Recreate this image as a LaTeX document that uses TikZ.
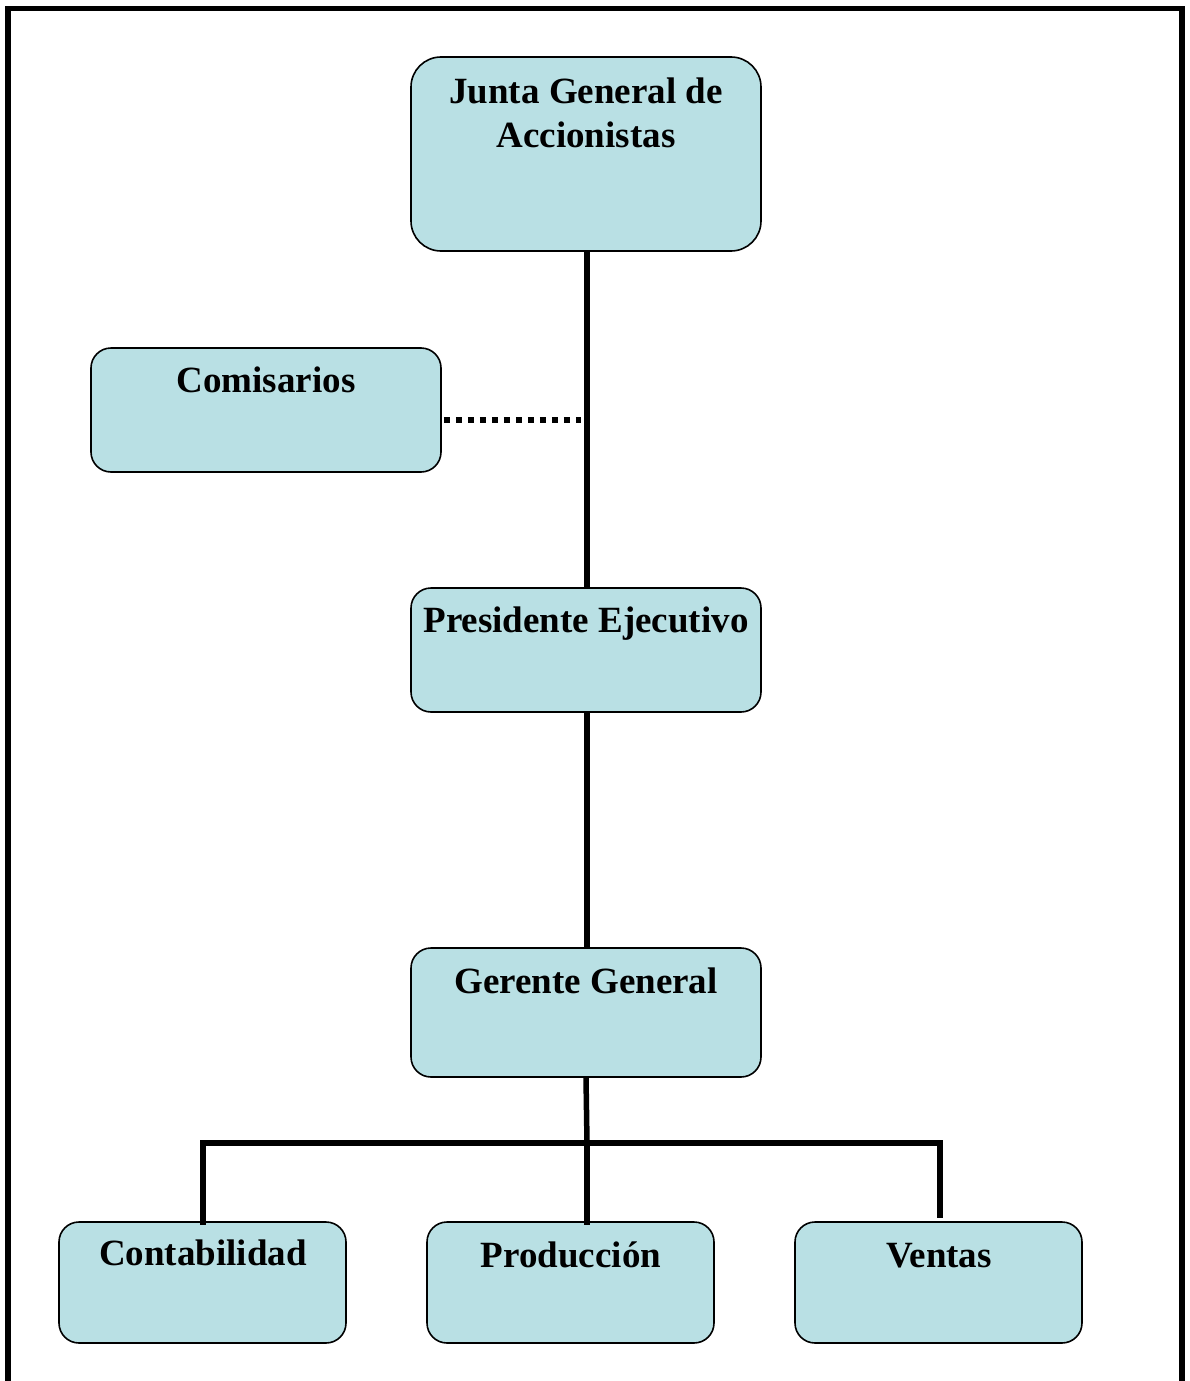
\documentclass[tikz,border=0pt]{standalone}
\usepackage{fontspec}
\setmainfont{Liberation Serif}
\begin{document}
\begin{tikzpicture}[x=1pt,y=-1pt,
  orgbox/.style={draw=black, line width=1.6pt, fill=boxfill, rounded corners=20pt,
    inner sep=0pt, minimum width=#1},
  orgbox/.default=350,
  lbl/.style={anchor=base, font=\bfseries\fontsize{37}{44}\selectfont, inner sep=0pt},
  link/.style={line width=5.5pt},
  dotlink/.style={line width=5.5pt, dash pattern=on 6pt off 6pt}]
\definecolor{boxfill}{RGB}{185,224,228}
\useasboundingbox (0,0) rectangle (1190,1381);
\begin{scope}
\clip (0,0) rectangle (1190,1381);
\draw[line width=5.5pt] (8,8.5) rectangle (1182,1400);
\end{scope}
% boxes
\node[orgbox, minimum height=194, rounded corners=30pt] (junta) at (586,154) {};
\node[orgbox, minimum height=124] (comis) at (266,410) {};
\node[orgbox, minimum height=124] (pres) at (586,650) {};
\node[orgbox, minimum height=129] (ger) at (586,1012.5) {};
\node[orgbox=287, minimum height=121] (cont) at (202.5,1282.5) {};
\node[orgbox=287, minimum height=121] (prod) at (570.5,1282.5) {};
\node[orgbox=287, minimum height=121] (vent) at (938.5,1282.5) {};
% labels
\node[lbl] (tjunta1) at (586,103) {Junta General de};
\node[lbl] (tjunta2) at (586,147) {Accionistas};
\node[lbl] (tcomis) at (266,392) {Comisarios};
\node[lbl] (tpres) at (586,632) {Presidente Ejecutivo};
\node[lbl] (tger) at (586,993) {Gerente General};
\node[lbl] (tcont) at (203,1265) {Contabilidad};
\node[lbl] (tprod) at (571,1267) {Producción};
\node[lbl] (tvent) at (939,1267) {Ventas};
% connectors
\coordinate (dotend) at (581,420);
\coordinate (bus) at (587,1143);
\coordinate (busl) at (203,1143);
\coordinate (busr) at (940,1143);
\draw[link] (junta.south -| 587,0) -- (pres.north -| 587,0);
\draw[dotlink] (comis.east |- dotend) ++(2,0) -- (dotend);
\draw[link] (pres.south -| 587,0) -- (ger.north -| 587,0);
\draw[link] (ger.south -| 586,0) -- (bus);
\draw[link, line cap=rect] (busl) -- (busr);
\draw[link] (busl) -- ([yshift=-4]cont.north -| busl);
\draw[link] (bus) -- ([yshift=-4]prod.north -| bus);
\draw[link] (busr) -- ([yshift=3]vent.north -| busr);
\end{tikzpicture}
\end{document}
